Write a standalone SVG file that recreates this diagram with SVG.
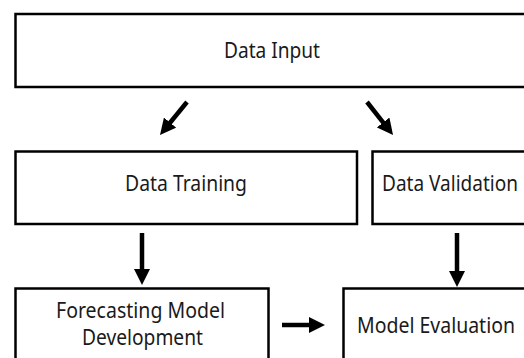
<svg xmlns="http://www.w3.org/2000/svg" width="524" height="358" viewBox="0 0 524 358">
  <style>
    .box { fill: #ffffff; stroke: #000000; stroke-width: 2.5; }
    .lbl { font-family: "Noto Sans", "Open Sans", sans-serif; font-size: 21.5px; fill: #1a1a1a; }
    .conn { stroke: #000000; stroke-width: 4.5; fill: none; marker-end: url(#head); }
  </style>
  <defs>
    <marker id="head" viewBox="0 0 16 16" refX="4" refY="8" markerWidth="16" markerHeight="16" markerUnits="userSpaceOnUse" orient="auto">
      <path d="M0,0 L16,8 L0,16 Z" fill="#000000"/>
    </marker>
  </defs>
  <rect x="0" y="0" width="524" height="358" fill="#ffffff"/>
  <g id="data-input">
    <rect class="box" x="15.5" y="14" width="520" height="73"/>
    <text class="lbl" x="224" y="58" textLength="96" lengthAdjust="spacingAndGlyphs">Data Input</text>
  </g>
  <g id="data-training">
    <rect class="box" x="15.5" y="151.5" width="341.5" height="72.5"/>
    <text class="lbl" x="125" y="191" textLength="122" lengthAdjust="spacingAndGlyphs">Data Training</text>
  </g>
  <g id="data-validation">
    <rect class="box" x="372.5" y="151.5" width="160" height="72.5"/>
    <text class="lbl" x="382" y="191" textLength="136" lengthAdjust="spacingAndGlyphs">Data Validation</text>
  </g>
  <g id="forecasting-model-development">
    <rect class="box" x="15.5" y="288.5" width="253" height="80"/>
    <text class="lbl" x="56" y="318" textLength="169" lengthAdjust="spacingAndGlyphs">Forecasting Model</text>
    <text class="lbl" x="82" y="345" textLength="121" lengthAdjust="spacingAndGlyphs">Development</text>
  </g>
  <g id="model-evaluation">
    <rect class="box" x="343.5" y="288.5" width="190" height="80"/>
    <text class="lbl" x="357" y="333" textLength="158" lengthAdjust="spacingAndGlyphs">Model Evaluation</text>
  </g>
  <g id="connectors">
    <line class="conn" x1="187" y1="102" x2="167.6" y2="125.7"/>
    <line class="conn" x1="367" y1="102" x2="385.6" y2="125.6"/>
    <line class="conn" x1="142" y1="233" x2="142" y2="273"/>
    <line class="conn" x1="457" y1="233" x2="457" y2="275"/>
    <line class="conn" x1="282" y1="325" x2="313" y2="325"/>
  </g>
</svg>
